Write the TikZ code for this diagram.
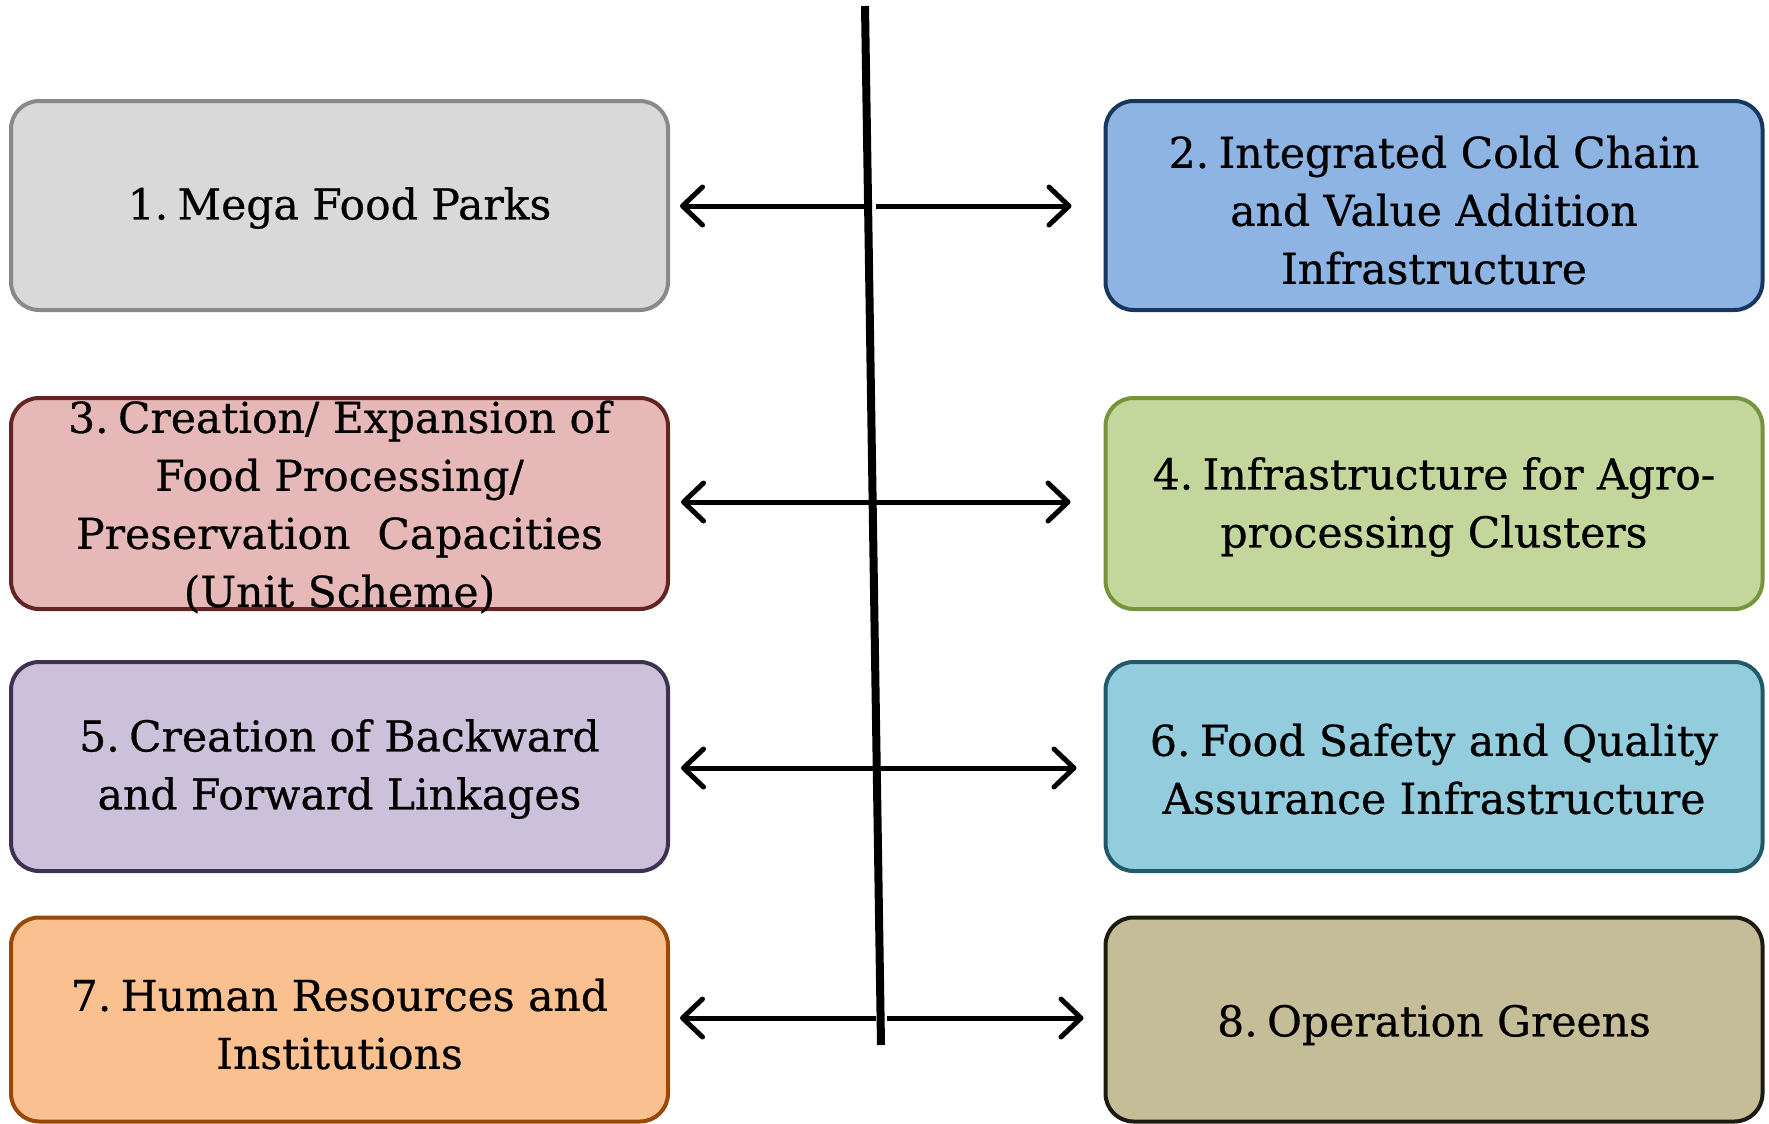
\documentclass[tikz,border=0pt]{standalone}
\usepackage{fontspec}
\setmainfont{DejaVu Serif}
\newfontfamily\slabfont{DejaVu Serif}[FakeBold=0.6]
\usetikzlibrary{arrows.meta}
\definecolor{f1}{HTML}{D9D9D9}\definecolor{d1}{HTML}{898989}
\definecolor{f2}{HTML}{8EB4E3}\definecolor{d2}{HTML}{17375E}
\definecolor{f3}{HTML}{E6B9B8}\definecolor{d3}{HTML}{632523}
\definecolor{f4}{HTML}{C3D69B}\definecolor{d4}{HTML}{77933C}
\definecolor{f5}{HTML}{CCC1DA}\definecolor{d5}{HTML}{3F3151}
\definecolor{f6}{HTML}{93CDDD}\definecolor{d6}{HTML}{215968}
\definecolor{f7}{HTML}{FAC090}\definecolor{d7}{HTML}{984807}
\definecolor{f8}{HTML}{C4BD97}\definecolor{d8}{HTML}{1D1B10}
\newcommand{\nsp}{\hspace{0.22em}}
\tikzset{
  box/.style 2 args={draw=#2, fill=#1, line width=4pt, rounded corners=28pt,
    minimum width=657pt, inner sep=0pt},
  txt/.style={align=center, inner sep=0pt, font=\slabfont\fontsize{42.5}{58}\selectfont},
  arr/.style={line width=5pt, -{Straight Barb[round, length=20pt, width=38pt]}},
  axis/.style={line width=8pt}
}
\begin{document}
\begin{tikzpicture}[x=1pt,y=-1pt]
\useasboundingbox (0,0) rectangle (1769,1124);
% boxes
\node[box={f1}{d1}, minimum height=209pt] (b1) at (339.5,205.5) {};
\node[box={f2}{d2}, minimum height=209pt] (b2) at (1434,205.5) {};
\node[box={f3}{d3}, minimum height=211pt] (b3) at (339.5,503.5) {};
\node[box={f4}{d4}, minimum height=211pt] (b4) at (1434,503.5) {};
\node[box={f5}{d5}, minimum height=209pt] (b5) at (339.5,766.5) {};
\node[box={f6}{d6}, minimum height=209pt] (b6) at (1434,766.5) {};
\node[box={f7}{d7}, minimum height=204pt] (b7) at (339.5,1019.5) {};
\node[box={f8}{d8}, minimum height=204pt] (b8) at (1434,1019.5) {};
% texts
\node[txt] (t1) at (339.5,208) {1.\nsp Mega Food Parks};
\node[txt] (t2) at (1434,210) {2.\nsp Integrated Cold Chain\\and Value Addition\\Infrastructure};
\node[txt] (t3) at (339.5,507) {3.\nsp Creation/ Expansion of\\Food Processing/\\Preservation~~Capacities\\(Unit Scheme)};
\node[txt] (t4) at (1434,507) {4.\nsp Infrastructure for Agro-\\processing Clusters};
\node[txt] (t5) at (339.5,769) {5.\nsp Creation of Backward\\and Forward Linkages};
\node[txt] (t6) at (1434,769) {6.\nsp Food Safety and Quality\\Assurance Infrastructure};
\node[txt] (t7) at (339.5,1024) {7.\nsp Human Resources and\\Institutions};
\node[txt] (t8) at (1434,1025) {8.\nsp Operation Greens};
% vertical line
\coordinate (vtop) at (865,6);
\coordinate (vbot) at (881,1045);
\draw[axis] (vtop) -- (vbot);
% arrow anchors
\coordinate (l1) at (865,206); \coordinate (r1) at (876,206);
\coordinate (l2) at (871,502); \coordinate (r2) at (869,502);
\coordinate (l3) at (876,768); \coordinate (r3) at (874,768);
\coordinate (l4) at (876,1018); \coordinate (r4) at (887,1018);
\draw[arr] (l1) -- ([xshift=10pt]b1.east |- l1);
\draw[arr] (r1) -- ([xshift=-32pt]b2.west |- r1);
\draw[arr] (l2) -- ([xshift=11pt]b3.east |- l2);
\draw[arr] (r2) -- ([xshift=-33pt]b4.west |- r2);
\draw[arr] (l3) -- ([xshift=11pt]b5.east |- l3);
\draw[arr] (r3) -- ([xshift=-27pt]b6.west |- r3);
\draw[arr] (l4) -- ([xshift=10pt]b7.east |- l4);
\draw[arr] (r4) -- ([xshift=-20pt]b8.west |- r4);
\end{tikzpicture}
\end{document}
